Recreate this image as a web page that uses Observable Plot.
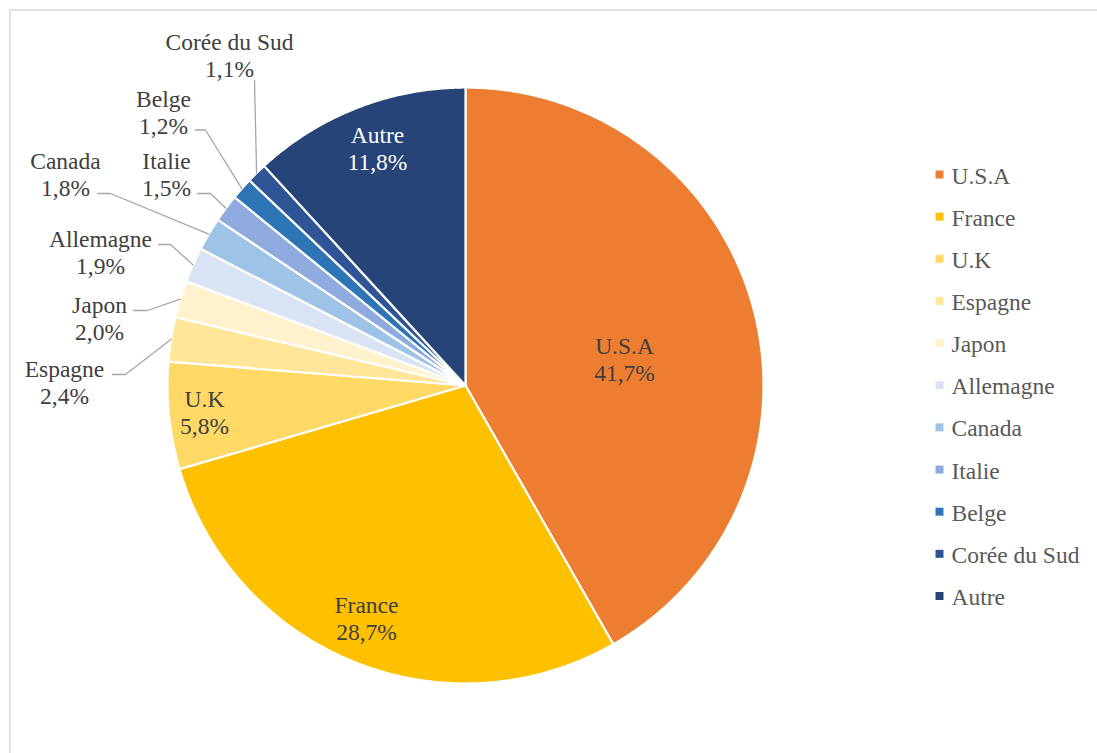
<!DOCTYPE html>
<html><head><meta charset="utf-8">
<script src="https://cdn.jsdelivr.net/npm/d3@7"></script>
<script src="https://cdn.jsdelivr.net/npm/@observablehq/plot@0.6"></script>
<style>body{margin:0;background:#fff;overflow:hidden}</style>
</head><body><div id="chart"></div>
<script>
// ---- data ----
const categories = ["U.S.A","France","U.K","Espagne","Japon","Allemagne","Canada","Italie","Belge","Corée du Sud","Autre"];
const shares = [41.7,28.7,5.8,2.4,2.0,1.9,1.8,1.5,1.2,1.1,11.8];
const colors = ["#ED7D31","#FFC000","#FFD966","#FFE699","#FFF2CC","#DAE3F3","#9DC3E6","#8FAADC","#2E75B6","#2F5597","#264478"];

// ---- layout ----
const W = 1097, H = 753;
const cx = 465, cy = 385, R = 298;
const FONT = "Liberation Serif";
// label anchor: centre x, baseline of the last line; elbow/end for leader lines
const labelLayout = {
  "U.S.A":        {x: 624, y: 380},
  "France":       {x: 366, y: 639},
  "U.K":          {x: 204, y: 433},
  "Espagne":      {x: 64,  y: 403, elbow: [125, 374], end: [112, 374]},
  "Japon":        {x: 99,  y: 339, elbow: [147, 310], end: [133, 310]},
  "Allemagne":    {x: 100, y: 273, elbow: [170, 244], end: [158, 244]},
  "Canada":       {x: 65,  y: 195, elbow: [110, 193], end: [97, 193]},
  "Italie":       {x: 166, y: 195, elbow: [210, 193], end: [197, 193]},
  "Belge":        {x: 163, y: 133, elbow: [205, 129.5], end: [195, 129.5]},
  "Corée du Sud": {x: 229, y: 76,  elbow: [254, 80]},
  "Autre":        {x: 377, y: 169}
};
const legendX = 939, legendTextX = 951, legendY0 = 183, legendStep = 42.15;

const fmt = v => v.toFixed(1).replace(".", ",") + "%";
const arcs = d3.pie().sort(null).value(d => d)(shares);

const slicePts = arcs.flatMap((a, i) => {
  const name = categories[i];
  const n = Math.max(2, Math.ceil((a.endAngle - a.startAngle) / (Math.PI / 360)));
  const pts = [{name, x: cx, y: cy}];
  for (let k = 0; k <= n; k++) {
    const t = a.startAngle + (a.endAngle - a.startAngle) * k / n;
    pts.push({name, x: cx + R * Math.sin(t), y: cy - R * Math.cos(t)});
  }
  pts.push({name, x: cx, y: cy});
  return pts;
});

const leaderPts = arcs.flatMap((a, i) => {
  const name = categories[i];
  const L = labelLayout[name];
  if (!L.elbow) return [];
  const m = (a.startAngle + a.endAngle) / 2;
  const pts = [{name, x: cx + R * Math.sin(m), y: cy - R * Math.cos(m)}, {name, x: L.elbow[0], y: L.elbow[1]}];
  if (L.end) pts.push({name, x: L.end[0], y: L.end[1]});
  return pts;
});

const labels = categories.map((c, i) => ({
  name: c,
  text: c + "\n" + fmt(shares[i]),
  x: labelLayout[c].x,
  y: labelLayout[c].y,
  color: c === "Autre" ? "#ffffff" : "#404040"
}));

const chart = Plot.plot({
  width: W, height: H,
  margin: 0,
  x: {domain: [0, W], range: [0, W], axis: null},
  y: {domain: [0, H], range: [0, H], axis: null},
  color: {domain: categories, range: colors},
  marks: [
    Plot.frame({stroke: "#d9d9d9", strokeWidth: 1.5, insetLeft: 9.5, insetTop: 9.5, insetRight: -5, insetBottom: -5}),
    Plot.line(slicePts, {x: "x", y: "y", z: "name", fill: "name", stroke: "white", strokeWidth: 2.2, strokeLinejoin: "round", curve: "linear"}),
    Plot.line(leaderPts, {x: "x", y: "y", z: "name", stroke: "#a6a6a6", strokeWidth: 1.3, curve: "linear"}),
    Plot.text(labels, {x: "x", y: "y", text: "text", fill: "color", fontFamily: FONT, fontSize: 23.5, lineAnchor: "bottom", lineHeight: 1.13, textAnchor: "middle"}),
    Plot.dot(categories, {x: () => legendX, y: (d, i) => legendY0 - 9 + i * legendStep, symbol: "square", r: 4.5, fill: d => d, stroke: null}),
    Plot.text(categories, {x: () => legendTextX, y: (d, i) => legendY0 + i * legendStep, text: d => d, fill: "#595959", fontFamily: FONT, fontSize: 23.5, lineAnchor: "bottom", textAnchor: "start"})
  ]
});
document.getElementById("chart").appendChild(chart);
</script>
</body></html>
